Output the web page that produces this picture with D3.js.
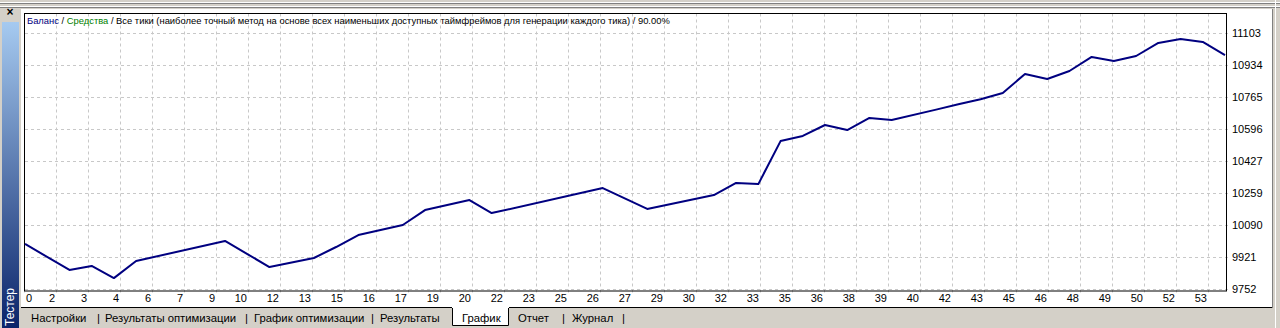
<!DOCTYPE html>
<html><head><meta charset="utf-8">
<script src="https://cdn.jsdelivr.net/npm/d3@7"></script>
<style>
html,body{margin:0;padding:0;background:#d4d0c8;}
svg{display:block;font-family:"Liberation Sans",Arial,sans-serif;}
</style></head>
<body>
<svg id="c" width="1280" height="328"></svg>
<script>
// ---- data ----
const tradeIdx = [0,2,3,4,5,9,11,13,14,15,17,18,20,21,26,28,31,32,33,34,35,36,37,38,39,41,42,43,44,45,46,47,48,49,50,51,52,53,54];
const balance  = [9988,9851,9872,9808,9898,10004,9866,9914,9972,10035,10088,10167,10220,10151,10283,10173,10246,10310,10304,10531,10558,10616,10589,10653,10642,10697,10725,10752,10785,10885,10859,10901,10975,10954,10980,11049,11070,11054,10985];
const xTickLabels = ["0","2","3","4","6","7","9","10","12","13","15","16","17","19","20","22","23","25","26","27","29","30","32","33","35","36","38","39","40","42","43","45","46","48","49","50","52","53"];
const yTickValues = [9752,9921,10090,10259,10427,10596,10765,10934,11103];
const tabNames = ["Настройки","Результаты оптимизации","График оптимизации","Результаты","График","Отчет","Журнал"];
const titleParts = [["Баланс","#000080"],[" / ","#000"],["Средства","#008000"],[" / Все тики (наиболее точный метод на основе всех наименьших доступных таймфреймов для генерации каждого тика) / 90.00%","#000"]];
const totalTrades = 54;
const gridStepTrades = 1.44;

const svg = d3.select("#c");

// ---- window chrome ----
svg.append("rect").attr("x",0).attr("y",0).attr("width",1280).attr("height",328).attr("fill","#d4d0c8");
[[2,"#fff"],[3,"#808080"],[6,"#fff"],[7,"#808080"]].forEach(([yy,c])=>{
  svg.append("line").attr("x1",0).attr("x2",1280).attr("y1",yy+0.5).attr("y2",yy+0.5).attr("stroke",c);
});
const defs = svg.append("defs");
const g1 = defs.append("linearGradient").attr("id","cap").attr("x1",0).attr("y1",0).attr("x2",0).attr("y2",1);
g1.append("stop").attr("offset","0%").attr("stop-color","#a6caf0");
g1.append("stop").attr("offset","100%").attr("stop-color","#0a246a");
svg.append("rect").attr("x",2).attr("y",22).attr("width",17).attr("height",306).attr("fill","url(#cap)");
svg.append("text").attr("transform","translate(14,307) rotate(-90)").attr("text-anchor","middle")
  .attr("font-size",12).attr("fill","#fff").text("Тестер");
svg.append("text").attr("x",10).attr("y",16).attr("text-anchor","middle").attr("font-size",12).attr("font-weight","bold").attr("fill","#000").text("×");

svg.append("rect").attr("x",21).attr("y",9).attr("width",1251).attr("height",298).attr("fill","#fff");
svg.append("line").attr("x1",21).attr("x2",1272).attr("y1",307.5).attr("y2",307.5).attr("stroke","#000");
svg.append("line").attr("x1",1272.5).attr("x2",1272.5).attr("y1",9).attr("y2",308).attr("stroke","#808080");
svg.append("line").attr("x1",1275.5).attr("x2",1275.5).attr("y1",0).attr("y2",328).attr("stroke","#fff");

// ---- scales ----
const L=25, R=1225, T=13.5, B=291;
const x = d3.scaleLinear().domain([0,totalTrades]).range([L,R]);
const y = d3.scaleLinear().domain([9752,11103]).range([288.7,32.7]);

const grid = svg.append("g").attr("stroke","#c8c8c8").attr("stroke-dasharray","3,3");
xTickLabels.forEach((lab,k)=>{
  const px = Math.round(x(k*gridStepTrades))-0.5;
  grid.append("line").attr("x1",px).attr("x2",px).attr("y1",T).attr("y2",B+3);
});
yTickValues.forEach(v=>{
  const py = Math.round(y(v))+0.5;
  grid.append("line").attr("x1",L).attr("x2",1230).attr("y1",py).attr("y2",py);
});

svg.append("rect").attr("x",24.5).attr("y",T).attr("width",1202).attr("height",B-T).attr("fill","none").attr("stroke","#000");

xTickLabels.forEach((lab,k)=>{
  const px = Math.round(x(k*gridStepTrades));
  const t = svg.append("text").attr("y",302).attr("font-size",11).attr("fill","#000").text(lab);
  if(k===0) t.attr("x",26).attr("text-anchor","start");
  else t.attr("x",px-2).attr("text-anchor","end");
});
yTickValues.forEach(v=>{
  svg.append("text").attr("x",1232).attr("y",Math.round(y(v))+4).attr("font-size",11).attr("fill","#000").text(v);
});

const pts = tradeIdx.map((t,i)=>[t,balance[i]]);
svg.append("path").datum(pts)
  .attr("d",d3.line().x(d=>x(d[0])).y(d=>y(d[1])))
  .attr("fill","none").attr("stroke","#000080").attr("stroke-width",2).attr("stroke-linejoin","round");

const title = svg.append("text").attr("x",27).attr("y",24).attr("font-size",11);
titleParts.forEach(([s,c])=>title.append("tspan").attr("fill",c).text(s));
const tw = title.node().getComputedTextLength();
title.attr("font-size",11*644/tw);

// ---- tabs ----
const tabX = [31,105,254,380,462,518,572];
const sepX = [97,245,371,null,null,562,622];
const tabY = 322, tabFont = 11.3;
tabNames.forEach((name,i)=>{
  if(name==="График"){
    svg.append("rect").attr("x",452).attr("y",307).attr("width",57).attr("height",19).attr("fill","#fff");
    svg.append("path").attr("d","M452.5,308 V325.5 H508.5 V308").attr("fill","none").attr("stroke","#000");
  }
  svg.append("text").attr("x",tabX[i]).attr("y",tabY).attr("font-size",tabFont).attr("fill","#000").text(name);
  if(sepX[i]!==null) svg.append("text").attr("x",sepX[i]).attr("y",tabY).attr("font-size",tabFont).attr("fill","#000").text("|");
});
</script>
</body></html>
